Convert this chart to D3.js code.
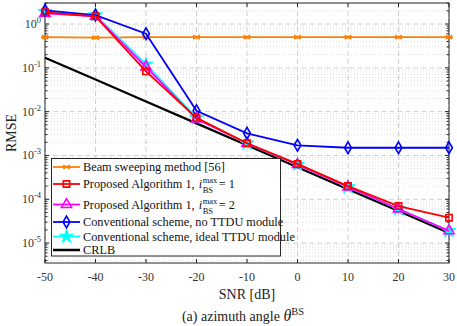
<!DOCTYPE html>
<html>
<head>
<meta charset="utf-8">
<script src="https://cdn.jsdelivr.net/npm/d3@7"></script>
<style>
  body { margin: 0; background: #fff; }
  svg text { font-family: "Liberation Serif", "Times New Roman", Times, "DejaVu Serif", serif; }
</style>
</head>
<body>
<script>
// data
const snr = [-50, -40, -30, -20, -10, 0, 10, 20, 30]
const beamSweep = [0.5, 0.49, 0.5, 0.5, 0.5, 0.5, 0.5, 0.5, 0.5]
const propAlg1 = [1.85, 1.5, 0.083, 0.0072, 0.0019, 0.00064, 0.0002, 0.00007, 0.000038]
const propAlg2 = [1.75, 1.5, 0.105, 0.0068, 0.0019, 0.00062, 0.00019, 0.00006, 0.000019]
const convNoTTDU = [2.05, 1.6, 0.6, 0.0105, 0.0032, 0.0017, 0.0015, 0.0015, 0.0015]
const convIdeal = [1.9, 1.6, 0.12, 0.0072, 0.0019, 0.00062, 0.00019, 0.00006, 0.000019]
const crlb = [0.17, 0.054, 0.017, 0.0054, 0.0017, 0.00054, 0.00017, 0.000054, 0.000017]
const xTicks = [-50, -40, -30, -20, -10, 0, 10, 20, 30]
const yDecades = [0, -1, -2, -3, -4, -5]

const series = [
  { name: "Beam sweeping method [56]", vals: beamSweep, color: "#ff8000", sym: "asterisk", size: 3.8 },
  { name: "CRLB", vals: crlb, color: "#000000", sym: null },
  { name: "Conventional scheme, ideal TTDU module", vals: convIdeal, color: "#00ffff", sym: "star", size: 60 },
  { name: "Proposed Algorithm 1, 2", vals: propAlg2, color: "#ff00ff", sym: "triangle", size: 45 },
  { name: "Conventional scheme, no TTDU module", vals: convNoTTDU, color: "#0000ff", sym: "diamond", size: 40 },
  { name: "Proposed Algorithm 1, 1", vals: propAlg1, color: "#ff0000", sym: "square", size: 40 }
]

const W = 457, H = 326
const L = 45, R = 449, T = 3, B = 263
const FONT = '"Liberation Serif", "Times New Roman", Times, "DejaVu Serif", serif'

const svg = d3.select("body").append("svg").attr("width", W).attr("height", H)
  .attr("font-family", FONT)

const x = d3.scaleLinear().domain([-50, 30]).range([L, R])
const y = d3.scaleLog().domain([Math.pow(10, -5.455), Math.pow(10, 0.48)]).range([B, T])

// grid
const grid = svg.append("g")
let minorVals = []
for (let e = -6; e <= 0; e++) {
  for (let m = 2; m <= 9; m++) {
    const v = m * Math.pow(10, e)
    if (v >= y.domain()[0] && v <= y.domain()[1]) minorVals.push(v)
  }
}
grid.selectAll(".minor").data(minorVals).join("line")
  .attr("x1", L).attr("x2", R)
  .attr("y1", d => y(d)).attr("y2", d => y(d))
  .attr("stroke", "#d4d4d4").attr("stroke-width", 0.8).attr("stroke-dasharray", "1,2")
grid.selectAll(".majy").data(yDecades).join("line")
  .attr("x1", L).attr("x2", R)
  .attr("y1", d => y(Math.pow(10, d))).attr("y2", d => y(Math.pow(10, d)))
  .attr("stroke", "#d0d0d0").attr("stroke-width", 1).attr("stroke-dasharray", "5,3")
grid.selectAll(".majx").data(xTicks).join("line")
  .attr("x1", d => x(d)).attr("x2", d => x(d))
  .attr("y1", T).attr("y2", B)
  .attr("stroke", "#d0d0d0").attr("stroke-width", 1).attr("stroke-dasharray", "5,3")

// box and ticks
const axC = "#262626"
svg.append("rect").attr("x", L).attr("y", T).attr("width", R - L).attr("height", B - T)
  .attr("fill", "none").attr("stroke", axC).attr("stroke-width", 1)
const ticks = svg.append("g").attr("stroke", axC).attr("stroke-width", 1)
xTicks.forEach(d => {
  ticks.append("line").attr("x1", x(d)).attr("x2", x(d)).attr("y1", B).attr("y2", B - 4)
  ticks.append("line").attr("x1", x(d)).attr("x2", x(d)).attr("y1", T).attr("y2", T + 4)
})
yDecades.forEach(d => {
  const yy = y(Math.pow(10, d))
  ticks.append("line").attr("x1", L).attr("x2", L + 4).attr("y1", yy).attr("y2", yy)
  ticks.append("line").attr("x1", R).attr("x2", R - 4).attr("y1", yy).attr("y2", yy)
})
minorVals.forEach(v => {
  const yy = y(v)
  ticks.append("line").attr("x1", L).attr("x2", L + 2.5).attr("y1", yy).attr("y2", yy)
  ticks.append("line").attr("x1", R).attr("x2", R - 2.5).attr("y1", yy).attr("y2", yy)
})

// tick labels
svg.append("g").selectAll("text").data(xTicks).join("text")
  .attr("x", d => x(d)).attr("y", 281)
  .attr("text-anchor", "middle").attr("font-size", 12).attr("fill", "#333")
  .text(d => d)
const yl = svg.append("g").selectAll("text").data(yDecades).join("text")
  .attr("x", 41).attr("y", d => y(Math.pow(10, d)) + 4)
  .attr("text-anchor", "end").attr("font-size", 12).attr("fill", "#333")
yl.append("tspan").text("10")
yl.append("tspan").attr("dy", -5).attr("font-size", 8.5).text(d => d)

// axis titles
svg.append("text").attr("transform", "translate(16," + ((T + B) / 2) + ") rotate(-90)")
  .attr("text-anchor", "middle").attr("font-size", 14).attr("fill", "#222").text("RMSE")
svg.append("text").attr("x", (L + R) / 2).attr("y", 299)
  .attr("text-anchor", "middle").attr("font-size", 14).attr("fill", "#222").text("SNR [dB]")
const cap = svg.append("text").attr("x", (L + R) / 2 - 4).attr("y", 321)
  .attr("text-anchor", "middle").attr("font-size", 14).attr("fill", "#222")
cap.append("tspan").text("(a) azimuth angle ")
cap.append("tspan").attr("font-style", "italic").attr("font-size", 16).text("θ")
cap.append("tspan").attr("dy", -6).attr("font-size", 10.5).text("BS")

// symbols
function symPath(sym, size) {
  if (sym === "asterisk") {
    const r = size
    const a = r * 0.87
    return "M" + (-r) + ",0L" + r + ",0" +
      "M" + (-a) + "," + (-r / 2) + "L" + a + "," + (r / 2) +
      "M" + (-a) + "," + (r / 2) + "L" + a + "," + (-r / 2)
  }
  const types = { square: d3.symbolSquare, triangle: d3.symbolTriangle, diamond: d3.symbolDiamond, star: d3.symbolStar }
  return d3.symbol().type(types[sym]).size(size)()
}
function drawMarker(g, s, cx, cy) {
  const p = g.append("path").attr("d", symPath(s.sym, s.size))
    .attr("transform", "translate(" + cx + "," + cy + ")")
  if (s.sym === "star") {
    p.attr("fill", s.color).attr("stroke", s.color).attr("stroke-width", 1)
  } else if (s.sym === "asterisk") {
    p.attr("fill", "none").attr("stroke", s.color).attr("stroke-width", 1.6)
  } else {
    p.attr("fill", "none").attr("stroke", s.color).attr("stroke-width", 1.6)
  }
}

const line = d3.line().x((d, i) => x(snr[i])).y(d => y(d))
const plot = svg.append("g")
series.forEach(s => {
  plot.append("path").attr("d", line(s.vals)).attr("fill", "none")
    .attr("stroke", s.color).attr("stroke-width", s.sym ? 1.8 : 2.2)
  if (s.sym) s.vals.forEach((v, i) => drawMarker(plot, s, x(snr[i]), y(v)))
})

// legend
const lg = svg.append("g")
lg.append("rect").attr("x", 51.5).attr("y", 158.5).attr("width", 229).attr("height", 97.5)
  .attr("fill", "#fff").attr("stroke", axC).attr("stroke-width", 1)
const legendOrder = [
  { s: series[0], y: 167, label: "Beam sweeping method [56]" },
  { s: series[5], y: 184, label: "Proposed Algorithm 1,", iv: "1" },
  { s: series[3], y: 204.5, label: "Proposed Algorithm 1,", iv: "2" },
  { s: series[4], y: 222, label: "Conventional scheme, no TTDU module" },
  { s: series[2], y: 236.5, label: "Conventional scheme, ideal TTDU module" },
  { s: series[1], y: 250, label: "CRLB" }
]
legendOrder.forEach(e => {
  lg.append("line").attr("x1", 53).attr("x2", 80).attr("y1", e.y).attr("y2", e.y)
    .attr("stroke", e.s.color).attr("stroke-width", e.s.sym ? 1.8 : 2.5)
  if (e.s.sym) drawMarker(lg, e.s, 66.5, e.y)
  const t = lg.append("text").attr("x", 83).attr("y", e.y + 4)
    .attr("font-size", 12.3).attr("fill", "#111").text(e.label)
  if (e.iv) {
    const w = t.node().getComputedTextLength()
    const ix = 83 + w + 4
    lg.append("text").attr("x", ix).attr("y", e.y + 4).attr("font-size", 12.3)
      .attr("font-style", "italic").attr("fill", "#111").text("i")
    lg.append("text").attr("x", ix + 4).attr("y", e.y - 1).attr("font-size", 8.5)
      .attr("fill", "#111").text("max")
    lg.append("text").attr("x", ix + 4).attr("y", e.y + 9).attr("font-size", 8.5)
      .attr("fill", "#111").text("BS")
    lg.append("text").attr("x", ix + 20).attr("y", e.y + 4).attr("font-size", 12.3)
      .attr("fill", "#111").text("= " + e.iv)
  }
})
</script>
</body>
</html>
